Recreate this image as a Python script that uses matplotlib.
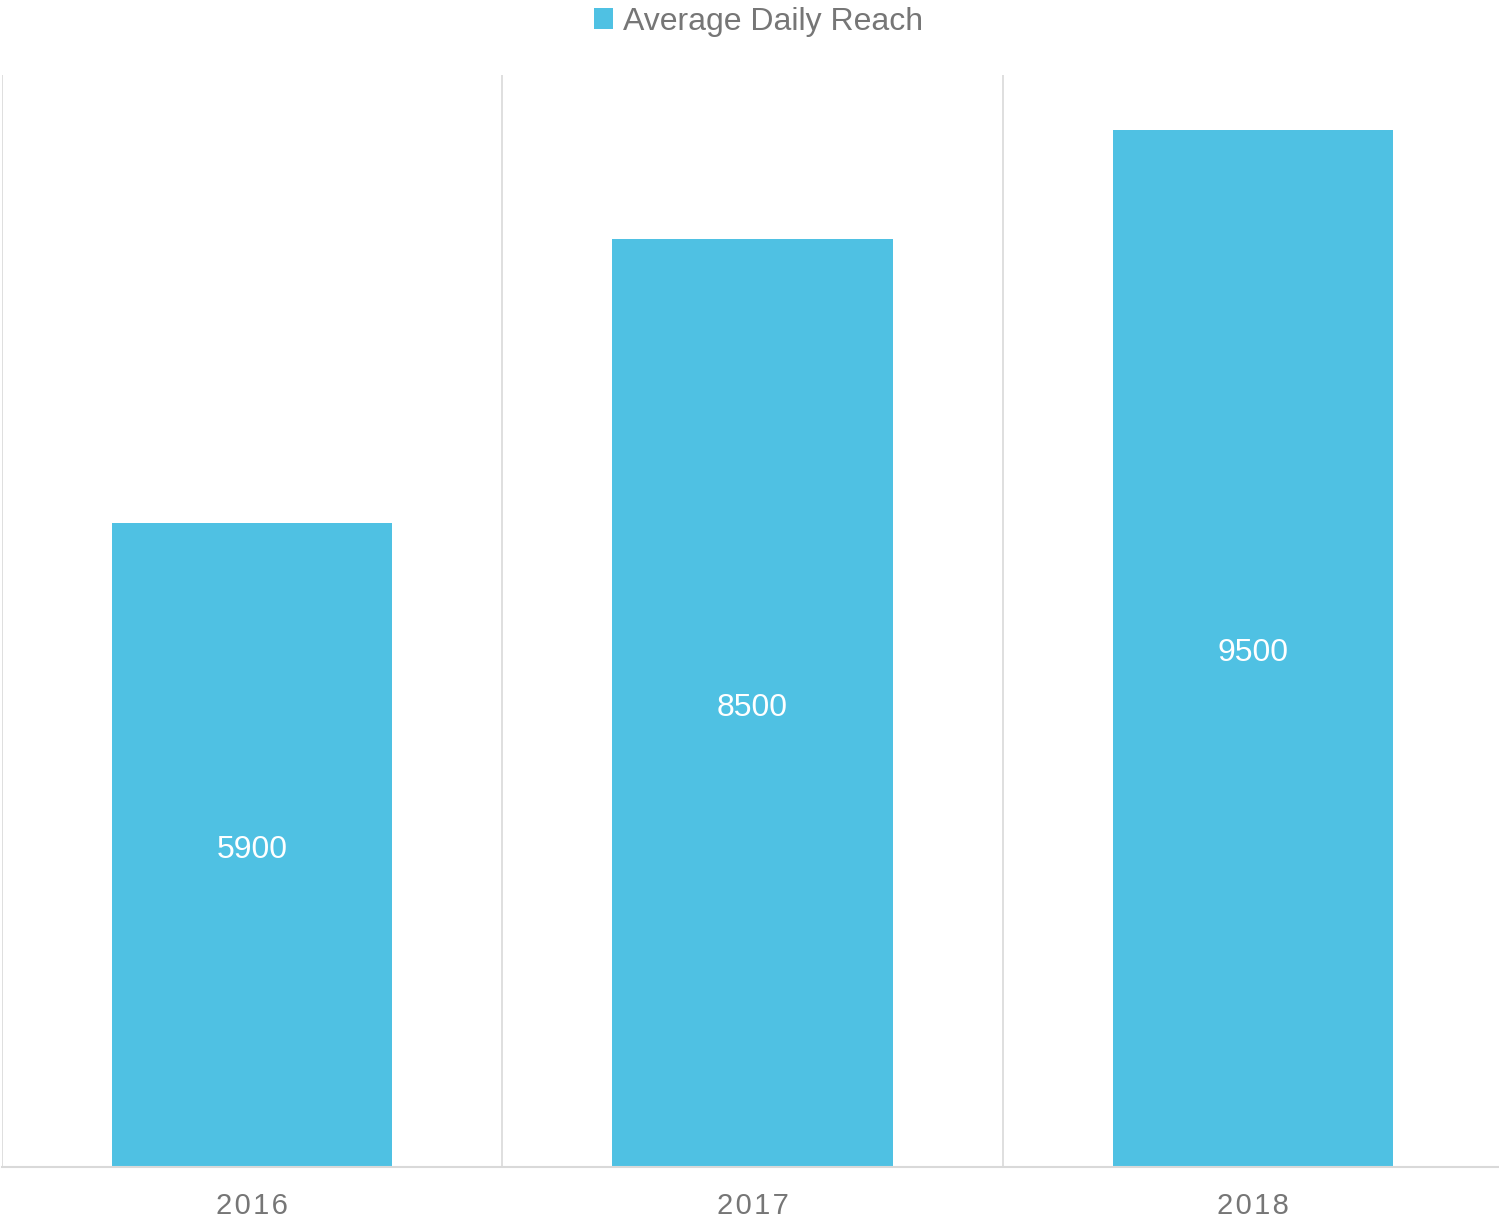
import matplotlib.pyplot as plt
import numpy as np

plt.rcParams['font.family'] = ['Liberation Sans', 'DejaVu Sans']

years = ['2016', '2017', '2018']
reach = [5900, 8500, 9500]
series_name = 'Average Daily Reach'

bar_color = '#4FC1E3'
grey = '#767676'
grid_grey = '#D9D9D9'

fig = plt.figure(figsize=(14.99, 12.21), dpi=100)
ax = fig.add_axes([2/1499, 1 - 1167/1221, 1501/1499, 1092/1221])

x = np.arange(len(years))
bars = ax.bar(x, reach, width=0.56, color=bar_color, label=series_name, zorder=2)

for b, v in zip(bars, reach):
    ax.annotate(str(v), (b.get_x() + b.get_width() / 2, v / 2), xytext=(0, -3.6),
                textcoords='offset points', ha='center', va='center',
                color='white', fontsize=23)

ax.set_xlim(-0.5, len(years) - 0.5)
ax.set_ylim(0, 10000)

# category boundary gridlines
for xb in np.arange(-0.5, len(years), 1.0):
    ax.axvline(xb, color=grid_grey, lw=1.2, zorder=1)

for s in ['top', 'right', 'left']:
    ax.spines[s].set_visible(False)
ax.spines['bottom'].set_color(grid_grey)
ax.spines['bottom'].set_linewidth(1.5)

ax.set_yticks([])
ax.set_xticks(x)
ax.set_xticklabels(['\u200a'.join(y) for y in years], fontsize=21, color=grey)
ax.tick_params(axis='x', length=0, pad=18)

leg = fig.legend(loc='upper center', bbox_to_anchor=(0.506, 1.018), frameon=False,
                 fontsize=23, handlelength=0.6, handleheight=0.6, handletextpad=0.3)
for t in leg.get_texts():
    t.set_color(grey)

fig.savefig('out.png', dpi=100)
